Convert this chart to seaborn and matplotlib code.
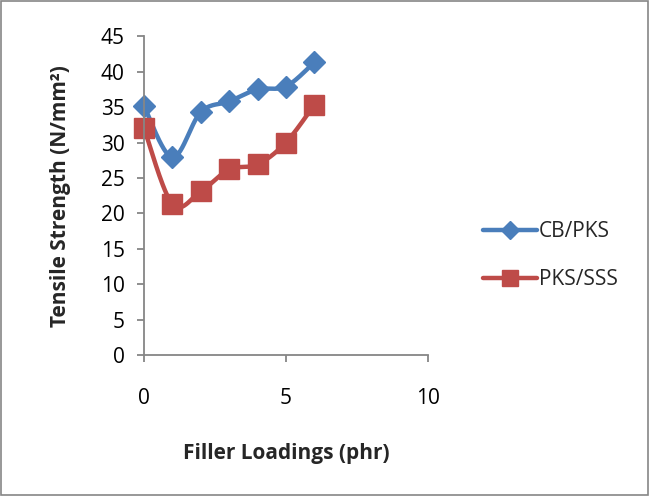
import numpy as np
import pandas as pd
import matplotlib
matplotlib.use("Agg")
import matplotlib.pyplot as plt
import seaborn as sns

loadings = [0, 1, 2, 3, 4, 5, 6]
cb_pks = [35.1, 27.9, 34.3, 35.8, 37.5, 37.9, 41.3]
pks_sss = [32.0, 21.3, 23.1, 26.2, 26.9, 30.0, 35.3]
series_names = ["CB/PKS", "PKS/SSS"]
colors = ["#4A7EBB", "#BE4B48"]
markers = ["D", "s"]
marker_sizes = [11, 14]


def smooth(xs, ys, n=30):
    """Catmull-Rom style spline through the points (spreadsheet smoothing)."""
    x = np.asarray(xs, float)
    y = np.asarray(ys, float)
    px = np.concatenate([[x[0]], x, [x[-1]]])
    py = np.concatenate([[y[0]], y, [y[-1]]])
    ox, oy = [], []
    for i in range(1, len(px) - 2):
        p0 = np.array([px[i - 1], py[i - 1]])
        p1 = np.array([px[i], py[i]])
        p2 = np.array([px[i + 1], py[i + 1]])
        p3 = np.array([px[i + 2], py[i + 2]])
        c1 = p1 + (p2 - p0) / 6
        c2 = p2 - (p3 - p1) / 6
        t = np.linspace(0, 1, n)[:, None]
        b = ((1 - t) ** 3) * p1 + 3 * ((1 - t) ** 2) * t * c1 + 3 * (1 - t) * t ** 2 * c2 + t ** 3 * p2
        ox.extend(b[:, 0])
        oy.extend(b[:, 1])
    return np.array(ox), np.array(oy)


sns.set_style("white")
plt.rcParams["font.family"] = ["Open Sans", "DejaVu Sans"]

fig = plt.figure(figsize=(6.49, 4.96), dpi=100)
ax = fig.add_axes([0.222, 0.284, 0.437, 0.643])

handles = []
for name, vals, c, m, ms in zip(series_names, [cb_pks, pks_sss], colors, markers, marker_sizes):
    sx, sy = smooth(loadings, vals)
    curve = pd.DataFrame({"x": sx, "y": sy})
    sns.lineplot(data=curve, x="x", y="y", ax=ax, color=c, linewidth=3.2,
                 sort=False, estimator=None, legend=False)
    ax.plot(loadings, vals, linestyle="none", marker=m, markersize=ms,
            color=c, markeredgecolor=c, clip_on=False)
    h, = ax.plot([], [], color=c, linewidth=3.2, marker=m, markersize=ms * 0.85)
    handles.append(h)

ax.set_xlim(0, 10)
ax.set_ylim(0, 45)
ax.set_xticks([0, 5, 10])
ax.set_yticks(np.arange(0, 50, 5))

for s in ["top", "right"]:
    ax.spines[s].set_visible(False)
for s in ["left", "bottom"]:
    ax.spines[s].set_color("#868686")
    ax.spines[s].set_linewidth(1.3)
ax.tick_params(axis="both", which="both", direction="out", length=5, width=1.3,
               color="#868686", labelsize=15, labelcolor="black", left=True, bottom=True)
ax.tick_params(axis="x", pad=19)
ax.tick_params(axis="y", pad=9)

ax.set_xlabel("Filler Loadings (phr)", fontsize=15, fontweight="bold", labelpad=24)
ax.set_ylabel("Tensile Strength (N/mm²)", fontsize=15, fontweight="bold", labelpad=21)

fig.legend(handles, series_names,
           loc="center left", bbox_to_anchor=(0.715, 0.485), frameon=False,
           fontsize=15, handlelength=2.6, labelspacing=1.3, handletextpad=0.1)

fig.patches.append(plt.Rectangle((0.002, 0.002), 0.996, 0.996, transform=fig.transFigure,
                                 fill=False, edgecolor="#868686", linewidth=1.2))

fig.savefig("out.png", dpi=100)
